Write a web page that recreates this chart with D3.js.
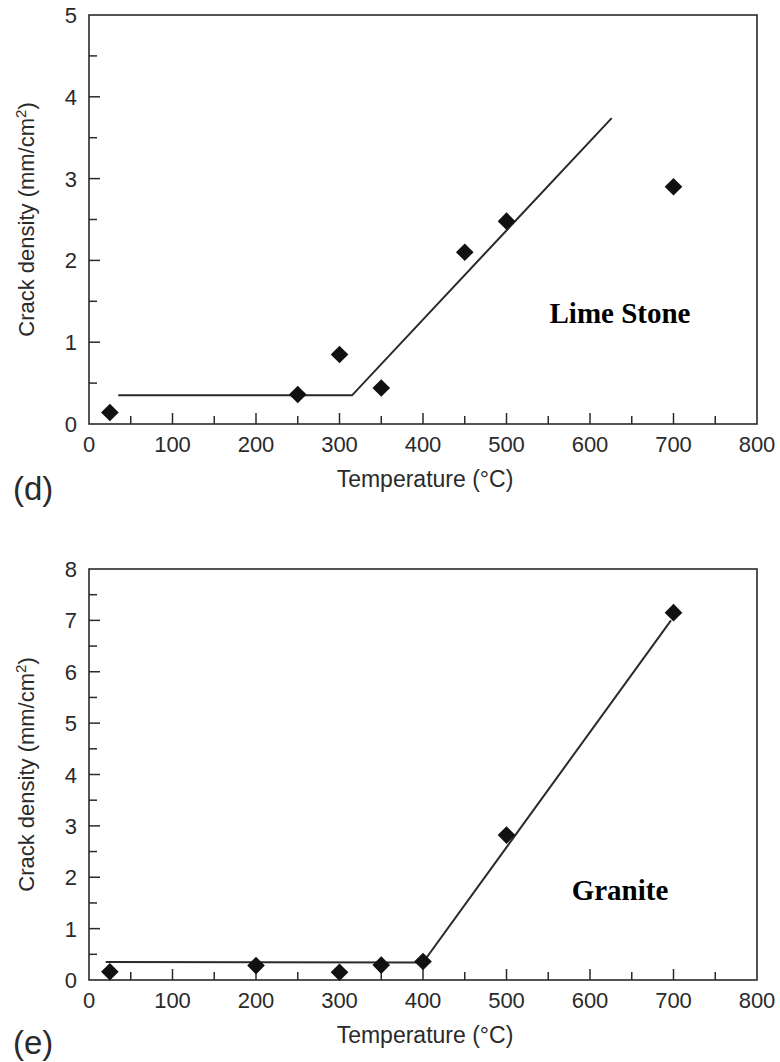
<!DOCTYPE html>
<html><head><meta charset="utf-8">
<script src="https://cdn.jsdelivr.net/npm/d3@7"></script>
<style>body{margin:0;background:#fff}svg{display:block}</style>
</head><body><svg id="c" width="780" height="1062"></svg>
<script>
// ---- data ----
const xTicks = [0,100,200,300,400,500,600,700,800];
const limeTemps = [25,250,300,350,450,500,700];
const limeDensity = [0.14,0.36,0.85,0.44,2.1,2.48,2.9];
const limeFitT = [35,315,626];
const limeFitD = [0.35,0.35,3.74];
const limeYTicks = [0,1,2,3,4,5];
const graniteTemps = [25,200,300,350,400,500,700];
const graniteDensity = [0.16,0.28,0.15,0.29,0.36,2.82,7.15];
const graniteFitT = [20,400,697];
const graniteFitD = [0.35,0.34,7.0];
const graniteYTicks = [0,1,2,3,4,5,6,7,8];

const svg = d3.select('#c');
const ink = '#2a2a2a';
const sans = '"Liberation Sans", Arial, sans-serif';

function panel(o){
  const g = svg.append('g');
  const x = d3.scaleLinear().domain([0,800]).range([89,757]);
  const y = d3.scaleLinear().domain([0,o.ymax]).range([o.bottom,o.top]);
  // frame
  g.append('rect').attr('x',89).attr('y',o.top).attr('width',757-89).attr('height',o.bottom-o.top)
    .attr('fill','none').attr('stroke',ink).attr('stroke-width',1.6);
  // x ticks
  const xMinor = d3.range(50,800,100);
  g.selectAll('.xM').data(xTicks.filter(t=>t>0&&t<800)).join('line')
    .attr('x1',d=>x(d)).attr('x2',d=>x(d)).attr('y1',o.bottom).attr('y2',o.bottom-11)
    .attr('stroke',ink).attr('stroke-width',1.5);
  g.selectAll('.xm').data(xMinor).join('line')
    .attr('x1',d=>x(d)).attr('x2',d=>x(d)).attr('y1',o.bottom).attr('y2',o.bottom-8)
    .attr('stroke',ink).attr('stroke-width',1.5);
  g.selectAll('.xl').data(xTicks).join('text')
    .attr('x',d=>x(d)).attr('y',o.bottom+28).attr('text-anchor','middle')
    .attr('font-family',sans).attr('font-size',22).attr('fill',ink).text(d=>d);
  // y ticks
  const yMinor = d3.range(0.5,o.ymax,1);
  g.selectAll('.yM').data(o.yTicks.filter(t=>t>0&&t<o.ymax)).join('line')
    .attr('x1',89).attr('x2',100).attr('y1',d=>y(d)).attr('y2',d=>y(d))
    .attr('stroke',ink).attr('stroke-width',1.5);
  g.selectAll('.ym').data(yMinor).join('line')
    .attr('x1',89).attr('x2',97).attr('y1',d=>y(d)).attr('y2',d=>y(d))
    .attr('stroke',ink).attr('stroke-width',1.5);
  g.selectAll('.yl').data(o.yTicks).join('text')
    .attr('x',77).attr('y',d=>y(d)+8).attr('text-anchor','end')
    .attr('font-family',sans).attr('font-size',22).attr('fill',ink).text(d=>d);
  // fit line
  const fit = o.fitT.map((t,i)=>[t,o.fitD[i]]);
  g.append('path').datum(fit)
    .attr('d',d3.line().x(d=>x(d[0])).y(d=>y(d[1])))
    .attr('fill','none').attr('stroke',ink).attr('stroke-width',2);
  // markers
  const pts = o.temps.map((t,i)=>[t,o.dens[i]]);
  g.selectAll('.pt').data(pts).join('path')
    .attr('d',d3.symbol(d3.symbolSquare,155))
    .attr('transform',d=>`translate(${x(d[0])},${y(d[1])}) rotate(45)`)
    .attr('fill','#111');
  // axis titles
  g.append('text').attr('x',425).attr('y',o.bottom+63).attr('text-anchor','middle')
    .attr('font-family',sans).attr('font-size',23).attr('fill',ink).text('Temperature (°C)');
  const yt = g.append('text').attr('transform',`translate(34,${(o.top+o.bottom)/2}) rotate(-90)`)
    .attr('text-anchor','middle').attr('font-family',sans).attr('font-size',22).attr('fill',ink);
  yt.append('tspan').text('Crack density (mm/cm');
  yt.append('tspan').attr('font-size',15).attr('dy',-8).text('2');
  yt.append('tspan').attr('dy',8).text(')');
  // material label
  g.append('text').attr('x',620).attr('y',o.labelY).attr('text-anchor','middle')
    .attr('font-family','"Liberation Serif", "Times New Roman", serif').attr('font-weight','bold')
    .attr('font-size',29).attr('fill','#000').text(o.label);
  // panel letter
  g.append('text').attr('x',13).attr('y',o.letterY)
    .attr('font-family',sans).attr('font-size',33).attr('fill',ink).text(o.letter);
}

panel({top:15,bottom:424,ymax:5,yTicks:limeYTicks,temps:limeTemps,dens:limeDensity,
  fitT:limeFitT,fitD:limeFitD,label:'Lime Stone',labelY:323,letter:'(d)',letterY:500});
panel({top:569,bottom:980,ymax:8,yTicks:graniteYTicks,temps:graniteTemps,dens:graniteDensity,
  fitT:graniteFitT,fitD:graniteFitD,label:'Granite',labelY:900,letter:'(e)',letterY:1054});
</script></body></html>
